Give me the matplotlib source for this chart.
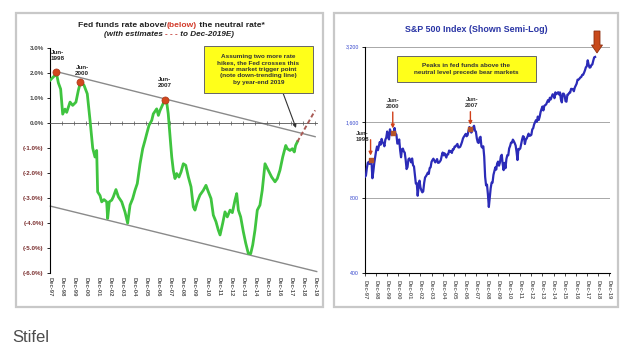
import numpy as np
import matplotlib
matplotlib.use("Agg")
from matplotlib import pyplot as plt, patches

plt.rcParams["font.family"] = ["Liberation Sans", "DejaVu Sans"]

W, H = 635, 349

# fed funds rate minus neutral rate, % points
spread_dates = [
    1997.92, 1998.33, 1998.42, 1998.61, 1998.80, 1998.97, 1999.16, 1999.30, 1999.58, 1999.80,
    2000.07, 2000.27, 2000.46, 2000.74, 2001.01, 2001.24, 2001.46, 2001.51, 2001.65, 2001.79,
    2001.87, 2002.07, 2002.21, 2002.40, 2002.62, 2002.70, 2002.84, 2003.04, 2003.17, 2003.39,
    2003.59, 2003.87, 2004.14, 2004.36, 2004.56, 2004.78, 2004.97, 2005.16, 2005.39, 2005.61,
    2005.80, 2005.94, 2006.13, 2006.36, 2006.49, 2006.77, 2006.91, 2007.05, 2007.24, 2007.46,
    2007.60, 2007.73, 2007.93, 2008.02, 2008.15, 2008.29, 2008.43, 2008.62, 2008.79, 2008.98,
    2009.18, 2009.40, 2009.62, 2009.81, 2009.95, 2010.14, 2010.36, 2010.64, 2010.86, 2011.06,
    2011.28, 2011.47, 2011.69, 2011.88, 2012.03, 2012.25, 2012.44, 2012.63, 2012.86, 2013.05,
    2013.27, 2013.41, 2013.55, 2013.74, 2013.96, 2014.16, 2014.37, 2014.57, 2014.74, 2014.93,
    2015.12, 2015.34, 2015.53, 2015.76, 2016.03, 2016.31, 2016.59, 2016.78, 2017.00, 2017.23,
    2017.48, 2017.61, 2017.83, 2018.03, 2018.19, 2018.30, 2018.45,
]
spread_values = [
    1.70, 1.90, 2.05, 1.60, 1.35, 0.35, 0.55, 0.42, 0.83, 0.70,
    0.83, 1.30, 1.65, 1.50, 1.16, 0.10, -1.00, -1.10, -1.36, -1.10,
    -2.75, -2.90, -3.15, -3.06, -3.15, -3.81, -3.15, -3.08, -2.95, -2.66,
    -2.95, -3.15, -3.55, -4.00, -3.28, -3.02, -2.69, -2.42, -1.63, -1.03,
    -0.70, -0.44, -0.10, 0.10, 0.36, 0.56, 0.30, 0.50, 0.70, 0.93,
    0.83, 0.36, -0.84, -1.36, -1.89, -2.22, -2.02, -2.16, -1.96, -1.63,
    -1.69, -2.16, -2.55, -3.35, -3.48, -3.15, -2.88, -2.69, -2.49, -2.75,
    -3.02, -3.68, -3.94, -4.27, -4.47, -4.00, -3.55, -3.75, -3.48, -3.58,
    -3.08, -2.82, -3.48, -3.75, -4.34, -4.80, -5.20, -5.22, -4.87, -4.27,
    -3.48, -3.28, -2.69, -1.63, -1.89, -2.16, -2.35, -2.22, -1.89, -1.36,
    -0.90, -1.03, -1.10, -1.03, -1.16, -0.90, -0.75,
]
# two more hikes through Dec-2019
estimate_dates = [2018.45, 2019.92]
estimate_values = [-0.75, 0.50]

upper_trend_dates = [1998.42, 2019.92]
upper_trend_values = [2.05, -0.55]
lower_trend_dates = [1997.95, 2020.05]
lower_trend_values = [-3.32, -5.93]

peak_labels = ["Jun-\n1998", "Jun-\n2000", "Jun-\n2007"]
peak_dates = [1998.42, 2000.42, 2007.42]
peak_spread = [2.05, 1.65, 0.93]
peak_sp500 = [1134, 1455, 1503]

# S&P 500 month-end closes, Dec-1997 .. Sep-2018
sp500_close = [
    970,
    980, 1049, 1102, 1112, 1091, 1134, 1121, 957, 1017, 1099, 1164, 1229,
    1280, 1238, 1286, 1335, 1302, 1373, 1329, 1320, 1283, 1363, 1389, 1469,
    1394, 1366, 1499, 1452, 1421, 1455, 1431, 1518, 1437, 1429, 1315, 1320,
    1366, 1240, 1160, 1249, 1256, 1224, 1211, 1134, 1041, 1060, 1139, 1148,
    1130, 1107, 1147, 1077, 1067, 990, 912, 916, 815, 886, 936, 880,
    856, 841, 848, 916, 964, 975, 990, 1008, 996, 1051, 1058, 1112,
    1131, 1145, 1126, 1107, 1121, 1141, 1102, 1104, 1115, 1130, 1174, 1212,
    1181, 1204, 1181, 1157, 1192, 1191, 1234, 1220, 1229, 1207, 1249, 1248,
    1280, 1281, 1295, 1311, 1270, 1270, 1277, 1304, 1336, 1378, 1401, 1418,
    1438, 1407, 1421, 1482, 1531, 1503, 1455, 1474, 1527, 1549, 1481, 1468,
    1379, 1331, 1323, 1386, 1400, 1280, 1267, 1283, 1166, 969, 896, 903,
    826, 735, 798, 873, 919, 919, 987, 1021, 1057, 1036, 1096, 1115,
    1074, 1104, 1169, 1187, 1089, 1031, 1102, 1049, 1141, 1183, 1181, 1258,
    1286, 1327, 1326, 1364, 1345, 1321, 1292, 1219, 1131, 1253, 1247, 1258,
    1312, 1366, 1408, 1398, 1310, 1362, 1379, 1407, 1441, 1412, 1416, 1426,
    1498, 1515, 1569, 1598, 1631, 1606, 1686, 1633, 1682, 1757, 1806, 1848,
    1783, 1859, 1872, 1884, 1924, 1960, 1931, 2003, 1972, 2018, 2068, 2059,
    1995, 2105, 2068, 2086, 2107, 2063, 2104, 1972, 1920, 2079, 2080, 2044,
    1940, 1932, 2060, 2065, 2097, 2099, 2174, 2171, 2168, 2126, 2199, 2239,
    2279, 2364, 2363, 2384, 2412, 2423, 2470, 2472, 2519, 2575, 2648, 2674,
    2824, 2714, 2641, 2648, 2705, 2718, 2816, 2902, 2914,
]
sp500_dates = 1997 + 11 / 12 + np.arange(len(sp500_close)) / 12

year_ticks = 1997 + 11 / 12 + np.arange(23)
year_labels = [f"Dec-{y % 100:02d}" for y in range(1997, 2020)]
spread_ticks = np.arange(3, -7, -1)
spread_labels = [f"{v:.1f}%" if v >= 0 else f"({v:.1f}%)" for v in spread_ticks]
sp_ticks = [400, 800, 1600, 3200]
sp_labels = ["400", "800", "1,600", "3,200"]

fig = plt.figure(figsize=(W / 100, H / 100), dpi=100)


def px_axes(x0, y0, x1, y1):
    return fig.add_axes([x0 / W, 1 - y1 / H, (x1 - x0) / W, (y1 - y0) / H])


# ---- left: fed funds vs neutral ----
x_lo, x_hi = 1997.917, 2020.05
ax1 = px_axes(50, 47.7, 50 + 12.05 * (x_hi - x_lo), 273.3)
ax1.set_xlim(x_lo, x_hi)
ax1.set_ylim(-6, 3)
ax1.patch.set_alpha(0)
for s in ("top", "right"):
    ax1.spines[s].set_visible(False)
ax1.spines["bottom"].set_position(("data", 0))
ax1.spines["bottom"].set_linewidth(0.6)
ax1.spines["bottom"].set_color("#555555")
ax1.spines["left"].set_linewidth(0.8)

ax1.set_yticks(spread_ticks, spread_labels)
ax1.tick_params(axis="y", length=2.5, width=0.6, labelsize=4.5, pad=2)
for lbl, v in zip(ax1.get_yticklabels(), spread_ticks):
    lbl.set_fontweight("bold")
    lbl.set_color("#444444" if v >= 0 else "#7a2e2e")
ax1.set_xticks(year_ticks)
ax1.tick_params(axis="x", direction="inout", length=3, width=0.5,
                color="#555555", labelbottom=False)
sec1 = ax1.secondary_xaxis(0)
sec1.set_xticks(year_ticks, year_labels, rotation=270, fontsize=4.2,
                fontweight="bold", color="#555555")
sec1.tick_params(length=0, pad=3)
sec1.spines["bottom"].set_visible(False)

ax1.plot(upper_trend_dates, upper_trend_values, color="#8a8a8a", lw=1, zorder=2)
ax1.plot(lower_trend_dates, lower_trend_values, color="#8a8a8a", lw=1,
         zorder=2, clip_on=False)
ax1.plot(spread_dates, spread_values, color="#3fc43f", lw=2,
         solid_joinstyle="round", zorder=3)
ax1.plot(estimate_dates, estimate_values, color="#a85a55", lw=1.4,
         ls=(0, (2.2, 1.4)), zorder=3, clip_on=False)
ax1.scatter(peak_dates, peak_spread, s=26, color="#d2481e",
            edgecolor="#a8361a", lw=0.5, zorder=5)
for lbl, t, v, off in zip(peak_labels, peak_dates, peak_spread,
                          [(1, 11.5), (1.5, 8), (0, 12)]):
    ax1.annotate(lbl, (t, v), xytext=off, textcoords="offset points",
                 ha="center", va="center", fontsize=4.5, fontweight="bold",
                 linespacing=1.25, color="#222222")

# ---- right: S&P 500, log scale ----
r_lo, r_hi = 1997.917, 2020.0
ax2 = px_axes(365, 46.7, 365 + 11.09 * (r_hi - r_lo), 273.3)
ax2.set_yscale("log")
ax2.set_xlim(r_lo, r_hi)
ax2.set_ylim(400, 3200)
ax2.patch.set_alpha(0)
for s in ("top", "right"):
    ax2.spines[s].set_visible(False)
ax2.spines["left"].set_linewidth(0.8)
ax2.spines["bottom"].set_linewidth(0.8)
ax2.set_yticks(sp_ticks, sp_labels)
ax2.minorticks_off()
ax2.yaxis.grid(True, color="#9a9a9a", lw=0.6)
ax2.tick_params(axis="y", length=2.5, width=0.6, labelsize=3.8, pad=2,
                labelcolor="#3344cc")
ax2.set_xticks(year_ticks, year_labels, rotation=270, fontsize=4.2,
               fontweight="bold", color="#666666")
ax2.tick_params(axis="x", length=2.5, width=0.5, pad=2)

ax2.plot(sp500_dates, sp500_close, color="#2b2bb8", lw=1.6,
         solid_joinstyle="round", zorder=3)
ax2.scatter(peak_dates, peak_sp500, s=12, marker="s", color="#b5532a",
            zorder=4)
arrow_kw = dict(arrowstyle="-|>", color="#d0401a", lw=1, mutation_scale=5,
                shrinkA=0, shrinkB=3)
for lbl, t, v, txt_off, arr_start in zip(
        peak_labels, peak_dates, peak_sp500,
        [(-6, 16.5), (0, 21), (1, 19)], [14.4, 14.8, 12.5]):
    ax2.annotate("", (t, v), xytext=(0, arr_start), textcoords="offset points",
                 arrowprops=arrow_kw, zorder=5)
    ax2.annotate(lbl, (t, v), xytext=txt_off, textcoords="offset points",
                 ha="center", va="center", fontsize=4.3, fontweight="bold",
                 linespacing=1.2, color="#333333")

# ---- overlay for frames, titles and call-outs (pixel coordinates) ----
ov = fig.add_axes([0, 0, 1, 1])
ov.set_xlim(0, W)
ov.set_ylim(H, 0)
ov.axis("off")

for x0, x1 in ((16, 323), (334, 618)):
    ov.add_patch(patches.Rectangle((x0, 13), x1 - x0, 294, fill=False,
                                   ec="#c8c8c8", lw=1.6))

# left title, with colored pieces chained together
t1 = ov.text(78, 27, "Fed funds rate above/", fontsize=6.1, fontweight="bold",
             color="#222222", va="baseline")
t2 = ov.annotate("(below)", xy=(1, 0), xycoords=t1, va="bottom",
                 fontsize=6.1, fontweight="bold", color="#d23a2a")
ov.annotate(" the neutral rate*", xy=(1, 0), xycoords=t2, va="bottom",
            fontsize=6.1, fontweight="bold", color="#222222")
s1 = ov.text(104, 36.5, "(with estimates ", fontsize=5.9, fontweight="bold",
             style="italic", color="#222222", va="baseline")
s2 = ov.annotate("- - -", xy=(1, 0), xycoords=s1, va="bottom",
                 fontsize=5.9, fontweight="bold", color="#c0302a")
ov.annotate(" to Dec-2019E)", xy=(1, 0), xycoords=s2, va="bottom",
            fontsize=5.9, fontweight="bold", style="italic", color="#222222")

ov.add_patch(patches.Rectangle((204, 46), 109, 47, fc="#ffff1a", ec="#666666",
                               lw=0.7, zorder=6))
ov.text(258.5, 69.5,
        "Assuming two more rate\nhikes, the Fed crosses this\n"
        "bear market trigger point\n(note down-trending line)\nby year-end 2019",
        ha="center", va="center", fontsize=4.6, fontweight="bold",
        linespacing=1.35, color="#333333", zorder=7)
ov.annotate("", xy=(296, 128), xytext=(283, 93),
            arrowprops=dict(arrowstyle="-|>", color="#333333", lw=0.8,
                            mutation_scale=5, shrinkA=0, shrinkB=0))

ov.text(476, 29, "S&P 500 Index (Shown Semi-Log)", ha="center", va="center",
        fontsize=6.4, fontweight="bold", color="#2a35a5")
ov.add_patch(patches.Rectangle((397, 56), 139, 26, fc="#ffff1a", ec="#666666",
                               lw=0.7, zorder=6))
ov.text(466.5, 69, "Peaks in fed funds above the\nneutral level precede bear markets",
        ha="center", va="center", fontsize=4.6, fontweight="bold",
        linespacing=1.35, color="#333333", zorder=7)
ov.add_patch(patches.FancyArrow(597, 31, 0, 22, width=6, head_width=11,
                                head_length=8, length_includes_head=True,
                                fc="#c84a1c", ec="#8e2e10", lw=0.6, zorder=6))

ov.text(12, 342.5, "Stifel", fontsize=12, color="#4d4d4d", va="baseline")

fig.savefig("out.png", dpi=100)
